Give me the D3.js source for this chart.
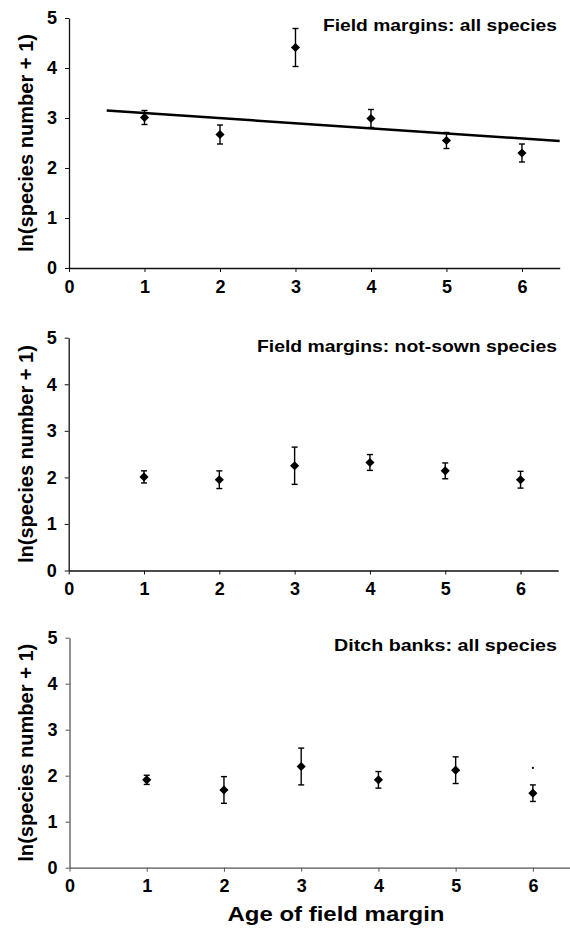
<!DOCTYPE html>
<html>
<head>
<meta charset="utf-8">
<script src="https://cdn.jsdelivr.net/npm/d3@7"></script>
<style>
    html, body { margin: 0; padding: 0; background: #fff; }
    svg { display: block; font-family: "Liberation Sans", Arial, sans-serif; }
</style>
</head>
<body>
<svg id="chart" width="570" height="931"></svg>
<script>
// Age of field margin (years)
const ages = [1, 2, 3, 4, 5, 6];
const xTicks = [0, 1, 2, 3, 4, 5, 6];
const yTicks = [0, 1, 2, 3, 4, 5];

// Field margins: all species
const allSpeciesMean = [3.01, 2.67, 4.41, 2.99, 2.55, 2.30];
const allSpeciesErr = [0.14, 0.19, 0.38, 0.18, 0.16, 0.18];
// regression line for all species
const trendAge = [0.5, 6.5];
const trendValue = [3.15, 2.54];

// Field margins: not-sown species
const notSownMean = [2.01, 1.95, 2.25, 2.32, 2.14, 1.95];
const notSownErr = [0.13, 0.19, 0.40, 0.17, 0.17, 0.18];

// Ditch banks: all species
const ditchMean = [1.91, 1.69, 2.20, 1.91, 2.12, 1.62];
const ditchErr = [0.10, 0.29, 0.40, 0.18, 0.29, 0.18];
// small stray dot above age 6
const ditchDotAge = [6];
const ditchDotValue = [2.17];

const panelTitles = ['Field margins: all species', 'Field margins: not-sown species', 'Ditch banks: all species'];
const yLabel = 'ln(species number + 1)';
const xLabel = 'Age of field margin';

const svg = d3.select('#chart');

// Panel frames
const panels = [
    { left: 69, right: 559.7, top: 18, bottom: 268, mean: allSpeciesMean, err: allSpeciesErr, axisColor: '#111', titleY: 31, titleW: 234 },
    { left: 68.7, right: 558.2, top: 337.7, bottom: 570.5, mean: notSownMean, err: notSownErr, axisColor: '#111', titleY: 352, titleW: 300 },
    { left: 69.5, right: 571.5, top: 637.7, bottom: 867.7, mean: ditchMean, err: ditchErr, axisColor: '#555', titleY: 651, titleW: 223 }
];

panels.forEach((p, i) => {
    const x = d3.scaleLinear().domain([0, 6.5]).range([p.left, p.right]);
    const y = d3.scaleLinear().domain([0, 5]).range([p.bottom, p.top]);
    const g = svg.append('g');

    // Axes
    const yAxis = g.append('g')
        .attr('transform', `translate(${p.left},0)`)
        .call(d3.axisLeft(y).tickValues(yTicks).tickFormat(d3.format('d')).tickSize(4).tickSizeOuter(0).tickPadding(8));
    const xAxis = g.append('g')
        .attr('transform', `translate(0,${p.bottom})`)
        .call(d3.axisBottom(x).tickValues(xTicks).tickFormat(d3.format('d')).tickSize(4).tickSizeOuter(0).tickPadding(8));

    [yAxis, xAxis].forEach(ax => {
        ax.select('.domain').attr('stroke', p.axisColor).attr('stroke-width', 1.3);
        ax.selectAll('.tick line').attr('stroke', p.axisColor).attr('stroke-width', 1);
        ax.selectAll('.tick text')
            .attr('fill', '#000')
            .attr('font-size', '18px')
            .attr('font-weight', 'bold')
            .attr('font-family', '"Liberation Sans", Arial, sans-serif');
    });

    // Y axis label
    g.append('text')
        .attr('transform', `translate(32.5,${(p.top + p.bottom) / 2}) rotate(-90)`)
        .attr('text-anchor', 'middle')
        .attr('font-size', '20px')
        .attr('font-weight', 'bold')
        .attr('textLength', 218)
        .attr('lengthAdjust', 'spacingAndGlyphs')
        .text(yLabel);

    // Panel title
    g.append('text')
        .attr('x', 557 - p.titleW)
        .attr('y', p.titleY)
        .attr('font-size', '17px')
        .attr('font-weight', 'bold')
        .attr('textLength', p.titleW)
        .attr('lengthAdjust', 'spacingAndGlyphs')
        .text(panelTitles[i]);

    // Trend line (first panel only)
    if (i === 0) {
        g.append('line')
            .attr('x1', x(trendAge[0]))
            .attr('y1', y(trendValue[0]))
            .attr('x2', x(trendAge[1]))
            .attr('y2', y(trendValue[1]))
            .attr('stroke', '#000')
            .attr('stroke-width', 2.5);
    }

    const pts = ages.map((a, k) => ({ age: a, mean: p.mean[k], err: p.err[k] }));

    // Error bars
    const eb = g.append('g').selectAll('g').data(pts).enter().append('g')
        .attr('stroke', '#000')
        .attr('stroke-width', 1.4);
    eb.append('line')
        .attr('x1', d => x(d.age)).attr('x2', d => x(d.age))
        .attr('y1', d => y(d.mean + d.err)).attr('y2', d => y(d.mean - d.err));
    eb.append('line')
        .attr('x1', d => x(d.age) - 3).attr('x2', d => x(d.age) + 3)
        .attr('y1', d => y(d.mean + d.err)).attr('y2', d => y(d.mean + d.err));
    eb.append('line')
        .attr('x1', d => x(d.age) - 3).attr('x2', d => x(d.age) + 3)
        .attr('y1', d => y(d.mean - d.err)).attr('y2', d => y(d.mean - d.err));

    // Diamond markers
    g.append('g').selectAll('path').data(pts).enter().append('path')
        .attr('d', d3.symbol().type(d3.symbolSquare).size(42))
        .attr('transform', d => `translate(${x(d.age)},${y(d.mean)}) rotate(45)`)
        .attr('fill', '#000');

    // Stray dot (third panel)
    if (i === 2) {
        g.append('g').selectAll('circle').data(ditchDotAge).enter().append('circle')
            .attr('cx', d => x(d))
            .attr('cy', (d, k) => y(ditchDotValue[k]))
            .attr('r', 1.1)
            .attr('fill', '#000');

        g.append('text')
            .attr('x', 336 - 108.5)
            .attr('y', 921)
            .attr('font-size', '20px')
            .attr('font-weight', 'bold')
            .attr('textLength', 217)
            .attr('lengthAdjust', 'spacingAndGlyphs')
            .text(xLabel);
    }
});
</script>
</body>
</html>
